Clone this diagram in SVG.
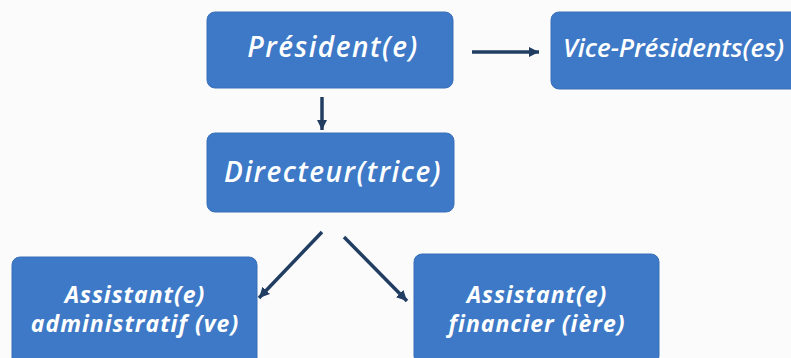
<svg xmlns="http://www.w3.org/2000/svg" width="791" height="358" viewBox="0 0 791 358">
<style>
.box{fill:#3d79c6;stroke:#3870b9;stroke-width:1}
.t{fill:#ffffff;font-family:"Open Sans","Liberation Sans",sans-serif;font-style:italic;text-anchor:middle}
.big{font-size:28px;font-weight:600;letter-spacing:1.5px}
.small{font-size:23px;font-weight:700;letter-spacing:1px}
.c{stroke:#213e62;stroke-width:3.5;fill:none;marker-end:url(#ah)}
</style>
<defs>
<marker id="ah" markerWidth="3" markerHeight="3" refX="3" refY="1.5" orient="auto" markerUnits="strokeWidth">
<path d="M0,0 L3,1.5 L0,3 z" fill="#213e62"/>
</marker>
</defs>
<rect width="791" height="358" fill="#fbfbfb"/>
<g id="president">
<rect class="box" x="207" y="12" width="246" height="76" rx="8"/>
<text class="t big" x="333" y="57">Président(e)</text>
</g>
<g id="vice">
<rect class="box" x="551" y="12" width="250" height="77" rx="8"/>
<text class="t" x="563" y="57" textLength="221" lengthAdjust="spacing" style="text-anchor:start;font-size:26px;font-weight:600">Vice-Présidents(es)</text>
</g>
<g id="directeur">
<rect class="box" x="207" y="133" width="247" height="79" rx="8"/>
<text class="t big" x="333" y="182">Directeur(trice)</text>
</g>
<g id="assist-admin">
<rect class="box" x="12" y="257" width="245" height="110" rx="8"/>
<text class="t small" x="135" y="303">Assistant(e)</text>
<text class="t small" x="135" y="332">administratif (ve)</text>
</g>
<g id="assist-fin">
<rect class="box" x="414" y="254" width="245" height="110" rx="8"/>
<text class="t small" x="537" y="303">Assistant(e)</text>
<text class="t small" x="537" y="332">financier (ière)</text>
</g>
<g id="connectors">
<line class="c" x1="322" y1="97" x2="322" y2="130"/>
<line class="c" x1="472" y1="52" x2="539" y2="52"/>
<line class="c" x1="322" y1="232" x2="259" y2="298"/>
<line class="c" x1="344" y1="237" x2="407" y2="301"/>
</g>
</svg>
